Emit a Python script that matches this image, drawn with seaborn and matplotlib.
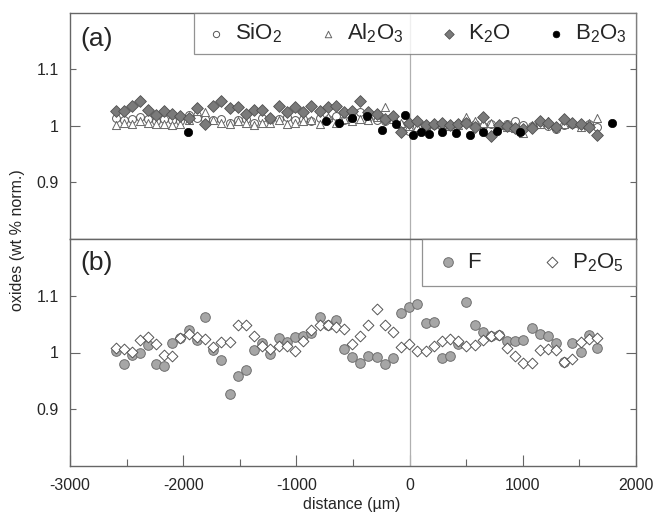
import matplotlib
matplotlib.use("Agg")
import matplotlib.pyplot as plt
import seaborn as sns

# measurement positions (um) shared by most oxides
distance = [-2597, -2524, -2453, -2382, -2312, -2241, -2170, -2097, -2026, -1952,
            -1882, -1808, -1738, -1664, -1590, -1517, -1446, -1372, -1301, -1231,
            -1157, -1087, -1013, -942, -869, -795, -722, -648, -577, -506,
            -435, -365, -292, -218, -148, -74, -3, 68, 141, 212,
            285, 356, 427, 500, 574, 647, 722, 789, 863, 934,
            1004, 1078, 1151, 1222, 1293, 1363, 1437, 1511, 1584, 1655]

# panel (a)
sio2 = [1.015, 1.010, 1.012, 1.016, 1.012, 1.008, 1.012, 1.010, 1.008, 1.020,
        1.014, 1.012, 1.010, 1.012, 1.006, 1.010, 1.012, 1.006, 1.014, 1.010,
        1.012, 1.016, 1.010, 1.012, 1.008, 1.014, 1.012, 1.018, 1.010, 1.014,
        1.025, 1.014, 1.010, 1.008, 1.012, 1.002, 0.992, 1.000, 0.996, 1.002,
        0.998, 1.000, 1.004, 1.009, 1.004, 1.000, 1.004, 1.000, 1.004, 1.008,
        1.002, 1.000, 1.004, 1.000, 0.994, 1.002, 1.004, 1.000, 1.004, 0.999]
al2o3 = [1.002, 1.006, 1.004, 1.008, 1.006, 1.004, 1.004, 1.002, 1.004, 1.010,
         1.026, 1.024, 1.010, 1.006, 1.004, 1.008, 1.006, 1.002, 1.006, 1.006,
         1.010, 1.004, 1.006, 1.009, 1.010, 1.004, 1.016, 1.006, 1.012, 1.008,
         1.012, 1.010, 1.016, 1.034, 1.012, 1.006, 1.000, 0.998, 1.002, 1.006,
         1.004, 1.000, 1.002, 1.016, 1.008, 1.006, 1.006, 1.002, 0.998, 0.996,
         0.988, 1.002, 1.004, 1.008, 1.000, 1.004, 1.006, 0.998, 1.006, 1.014]
k2o = [1.027, 1.026, 1.036, 1.045, 1.029, 1.020, 1.026, 1.021, 1.018, 1.014,
       1.031, 1.004, 1.036, 1.045, 1.031, 1.034, 1.022, 1.028, 1.028, 1.015,
       1.036, 1.025, 1.034, 1.025, 1.036, 1.027, 1.034, 1.036, 1.025, 1.027,
       1.044, 1.025, 1.022, 1.012, 1.018, 0.990, 1.006, 1.008, 1.001, 1.004,
       1.006, 1.001, 1.004, 1.006, 0.998, 1.016, 0.982, 1.002, 1.000, 0.996,
       0.994, 0.997, 1.009, 1.006, 0.999, 1.012, 1.006, 1.003, 0.998, 0.984]
b2o3_distance = [-1958, -739, -624, -512, -377, -245, -117, -44, 27, 97,
                 168, 289, 409, 530, 647, 769, 975, 1784]
b2o3 = [0.990, 1.009, 1.006, 1.015, 1.018, 0.993, 1.004, 1.020, 0.984, 0.989,
        0.986, 0.989, 0.988, 0.984, 0.989, 0.992, 0.989, 1.006]

# panel (b)
f = [1.002, 0.980, 0.996, 0.999, 1.013, 0.980, 0.976, 1.017, 1.025, 1.040,
     1.022, 1.063, 1.005, 0.987, 0.927, 0.958, 0.970, 1.005, 1.017, 0.997,
     1.026, 1.018, 1.027, 1.029, 1.034, 1.062, 1.049, 1.057, 1.007, 0.992,
     0.982, 0.994, 0.992, 0.980, 0.990, 1.069, 1.080, 1.085, 1.052, 1.054,
     0.991, 0.994, 1.015, 1.089, 1.049, 1.036, 1.029, 1.031, 1.021, 1.021,
     1.022, 1.044, 1.033, 1.029, 1.017, 0.983, 1.017, 1.001, 1.031, 1.008]
p2o5 = [1.008, 1.007, 1.001, 1.022, 1.028, 1.015, 0.995, 0.993, 1.026, 1.033,
        1.028, 1.024, 1.010, 1.018, 1.019, 1.049, 1.049, 1.029, 1.012, 1.006,
        1.011, 1.012, 1.002, 1.020, 1.040, 1.048, 1.049, 1.045, 1.041, 1.015,
        1.029, 1.048, 1.077, 1.048, 1.036, 1.010, 1.015, 1.002, 1.002, 1.011,
        1.021, 1.024, 1.020, 1.012, 1.013, 1.022, 1.029, 1.031, 1.008, 0.994,
        0.982, 0.982, 1.004, 1.007, 1.004, 0.983, 0.989, 1.019, 1.024, 1.026]

x_ticks = [-3000, -2000, -1000, 0, 1000, 2000]

sns.set_theme(style="white")
plt.rcParams["font.family"] = ["Liberation Sans", "DejaVu Sans"]
plt.rcParams["mathtext.default"] = "regular"

fig = plt.figure(figsize=(6.56, 5.15), dpi=100)
ax_a = fig.add_axes([70 / 656, 1 - 239 / 515, 566 / 656, 226 / 515])
ax_b = fig.add_axes([70 / 656, 1 - 466 / 515, 566 / 656, 227 / 515])

edge = "#555555"

# === panel (a) ===
sns.scatterplot(x=distance, y=sio2, ax=ax_a, marker="o", s=32, color="white",
                edgecolor=edge, linewidth=0.7, label="SiO$_2$", zorder=3)
sns.scatterplot(x=distance, y=al2o3, ax=ax_a, marker="^", s=34, color="white",
                edgecolor="#666666", linewidth=0.7, label="Al$_2$O$_3$", zorder=3)
sns.scatterplot(x=distance, y=k2o, ax=ax_a, marker="D", s=36, color="#7a7a7a",
                edgecolor="#505050", linewidth=0.6, label="K$_2$O", zorder=4)
sns.scatterplot(x=b2o3_distance, y=b2o3, ax=ax_a, marker="o", s=36, color="black",
                edgecolor="black", linewidth=0.5, label="B$_2$O$_3$", zorder=5)

# === panel (b) ===
sns.scatterplot(x=distance, y=f, ax=ax_b, marker="o", s=48, color="#a6a6a6",
                edgecolor="#6e6e6e", linewidth=0.7, label="F", zorder=3)
sns.scatterplot(x=distance, y=p2o5, ax=ax_b, marker="D", s=30, color="white",
                edgecolor=edge, linewidth=0.7, label="P$_2$O$_5$", zorder=4)

for ax in (ax_a, ax_b):
    ax.axvline(0, color="#b0b0b0", lw=0.9, zorder=1)
    ax.set_xlim(-3000, 2000)
    ax.set_ylim(0.8, 1.2)
    ax.set_yticks([1.0])
    ax.set_yticklabels(["1"])
    ax.set_yticks([0.9, 1.1], minor=True)
    ax.set_yticklabels(["0.9", "1.1"], minor=True)
    ax.tick_params(axis="y", which="both", direction="in", left=True, right=True,
                   labelsize=11.5, pad=8, color="#666666", width=0.8)
    ax.tick_params(axis="y", which="major", length=7)
    ax.tick_params(axis="y", which="minor", length=4)
    for sp in ax.spines.values():
        sp.set_color("#666666")
        sp.set_linewidth(1.0)
    ax.set_xlabel("")
    ax.set_ylabel("")

ax_a.set_xticks([])
ax_a.tick_params(axis="x", which="both", bottom=False, labelbottom=False)

ax_b.set_xticks(x_ticks)
ax_b.set_xticklabels([str(t) for t in x_ticks])
ax_b.set_xticks([-2500, -1500, -500, 500, 1500], minor=True)
ax_b.tick_params(axis="x", which="both", direction="in", bottom=True, top=False,
                 labelsize=11.5, pad=9, color="#666666", width=0.8)
ax_b.tick_params(axis="x", which="major", length=8)
ax_b.tick_params(axis="x", which="minor", length=5)

# legends
leg_a = ax_a.legend(loc="upper left", bbox_to_anchor=(124 / 566, 0.0, 442 / 566, 1.0),
                    mode="expand", ncol=4, fontsize=16, frameon=True, fancybox=False,
                    edgecolor="#777777", borderpad=0.4, handletextpad=0.25,
                    borderaxespad=0.0, handlelength=1.2, markerscale=0.8)
leg_a.get_frame().set_linewidth(0.9)
leg_a.get_frame().set_facecolor((1, 1, 1, 0))

leg_b = ax_b.legend(loc="upper left", bbox_to_anchor=(352 / 566, 0.0, 214 / 566, 1.0),
                    mode="expand", ncol=2, fontsize=16, frameon=True, fancybox=False,
                    edgecolor="#777777", borderpad=0.55, handletextpad=0.3,
                    borderaxespad=0.0, handlelength=1.2)
leg_b.get_frame().set_linewidth(0.9)

ax_a.text(0.018, 0.885, "(a)", transform=ax_a.transAxes, fontsize=19, va="center")
ax_b.text(0.018, 0.895, "(b)", transform=ax_b.transAxes, fontsize=19, va="center")

fig.text(18 / 656, 1 - 240 / 515, "oxides (wt % norm.)", rotation=90,
         ha="center", va="center", fontsize=11.5)
fig.text(352 / 656, 1 - 505 / 515, "distance (µm)", ha="center", va="center",
         fontsize=11.5)

fig.savefig("out.png", dpi=100)
